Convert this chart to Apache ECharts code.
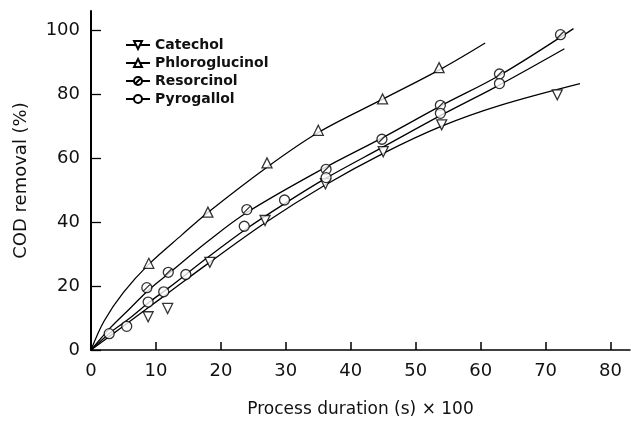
<!DOCTYPE html>
<html>
<head>
<meta charset="utf-8">
<script src="https://cdn.jsdelivr.net/npm/echarts@6/dist/echarts.min.js"></script>
<style>
  html, body { margin: 0; padding: 0; background: #fff; }
  #chart { width: 631px; height: 423px; }
</style>
</head>
<body>
<div id="chart"></div>
<script>
// measured points
const catecholX = [8.8, 11.8, 18.3, 26.8, 36.1, 45.0, 54.0, 71.8];
const catecholY = [10.4, 13.0, 27.4, 40.5, 52.0, 62.0, 70.4, 79.8];
const phloroX = [8.9, 18.0, 27.1, 35.0, 44.9, 53.6];
const phloroY = [27.1, 43.1, 58.5, 68.7, 78.5, 88.3];
const resorcX = [8.6, 11.9, 24.0, 36.2, 44.8, 53.8, 62.9, 72.3];
const resorcY = [19.5, 24.3, 43.9, 56.5, 65.9, 76.5, 86.3, 98.6];
const pyroX = [2.8, 5.5, 8.8, 11.2, 14.6, 23.6, 29.8, 36.2, 53.8, 62.9];
const pyroY = [5.1, 7.4, 15.0, 18.2, 23.6, 38.7, 46.9, 53.9, 74.0, 83.3];

// fitted curves
const catecholCurveX = [0, 3, 6, 9, 12, 18, 27, 36, 45, 54, 63, 75.3];
const catecholCurveY = [0, 4.5, 9, 13.5, 18, 27, 40, 51.5, 61.5, 70, 76.5, 83.3];
const phloroCurveX = [0, 2, 5, 9, 14, 18, 27, 35, 45, 54, 60.7];
const phloroCurveY = [0, 9, 18, 27, 36, 43, 57, 68, 78.5, 88, 96];
const resorcCurveX = [0, 3, 6, 9, 12, 18, 24, 36, 45, 54, 63, 74.3];
const resorcCurveY = [0, 7, 13, 19, 24, 34, 43, 57, 66.5, 76.5, 86, 100.5];
const pyroCurveX = [0, 3, 6, 9, 12, 18, 24, 30, 36, 45, 54, 63, 72.9];
const pyroCurveY = [0, 5.5, 10, 15, 19.5, 29, 38, 46, 53.5, 63.5, 73.5, 83, 94.2];

const xTicks = [0, 10, 20, 30, 40, 50, 60, 70, 80];
const yTicks = [0, 20, 40, 60, 80, 100];

const names = ['Catechol', 'Phloroglucinol', 'Resorcinol', 'Pyrogallol'];

const triDown = 'path://M-10,-8 L10,-8 L0,10 Z';
const triUp = 'path://M0,-10 L10,8 L-10,8 Z';
const slashCircle = 'path://M10,0 A10,10 0 1,1 -10,0 A10,10 0 1,1 10,0 Z M-7,7 L7,-7';
const circle = 'path://M10,0 A10,10 0 1,1 -10,0 A10,10 0 1,1 10,0 Z';

const zip = (xs, ys) => xs.map((x, i) => [x, ys[i]]);

const markStyle = { color: '#fff', borderColor: '#000', borderWidth: 1.3 };

function curve(name, xs, ys, symbol) {
    return {
        name: name,
        type: 'line',
        data: zip(xs, ys),
        smooth: 0.35,
        symbol: symbol,
        symbolSize: 9,
        showSymbol: false,
        itemStyle: markStyle,
        lineStyle: { color: '#000', width: 1.3 },
        z: 2,
        silent: true,
    };
}

function marks(name, xs, ys, symbol) {
    return {
        name: name,
        type: 'scatter',
        data: zip(xs, ys),
        symbol: symbol,
        symbolSize: 10,
        itemStyle: markStyle,
        z: 3,
    };
}

const chart = echarts.init(document.getElementById('chart'), null, { renderer: 'canvas' });

chart.setOption({
    backgroundColor: '#fff',
    animation: false,
    grid: { left: 91, right: 1, top: 11, bottom: 63 },
    legend: {
        data: names,
        orient: 'vertical',
        left: 120,
        top: 33,
        itemGap: 4,
        itemWidth: 24,
        itemHeight: 10,
        textStyle: { fontFamily: 'DejaVu Sans', fontSize: 14, fontWeight: 'bold', color: '#111' },
    },
    xAxis: {
        type: 'value',
        min: 0,
        max: 83,
        interval: 10,
        name: 'Process duration (s) \u00d7 100',
        nameLocation: 'middle',
        nameGap: 51,
        nameTextStyle: { fontFamily: 'DejaVu Sans', fontSize: 17, color: '#111' },
        axisLine: { lineStyle: { color: '#000', width: 1.5 } },
        axisTick: { inside: true, length: 8, lineStyle: { color: '#000', width: 1.5 } },
        axisLabel: {
            fontFamily: 'DejaVu Sans', fontSize: 18, color: '#111', margin: 12,
            showMaxLabel: false,
            formatter: v => (xTicks.includes(v) ? String(v) : ''),
        },
        splitLine: { show: false },
    },
    yAxis: {
        type: 'value',
        min: 0,
        max: 106,
        interval: 20,
        name: 'COD removal (%)',
        nameLocation: 'middle',
        nameGap: 61,
        nameTextStyle: { fontFamily: 'DejaVu Sans', fontSize: 18, color: '#111' },
        axisLine: { lineStyle: { color: '#000', width: 2 } },
        axisTick: { inside: true, length: 10, lineStyle: { color: '#000', width: 1.3 } },
        axisLabel: {
            fontFamily: 'DejaVu Sans', fontSize: 18, color: '#111', margin: 11,
            showMaxLabel: false,
            formatter: v => (yTicks.includes(v) ? String(v) : ''),
        },
        splitLine: { show: false },
    },
    series: [
        curve(names[0], catecholCurveX, catecholCurveY, triDown),
        curve(names[1], phloroCurveX, phloroCurveY, triUp),
        curve(names[2], resorcCurveX, resorcCurveY, slashCircle),
        curve(names[3], pyroCurveX, pyroCurveY, circle),
        marks(names[0], catecholX, catecholY, triDown),
        marks(names[1], phloroX, phloroY, triUp),
        marks(names[2], resorcX, resorcY, slashCircle),
        marks(names[3], pyroX, pyroY, circle),
    ],
});
</script>
</body>
</html>
